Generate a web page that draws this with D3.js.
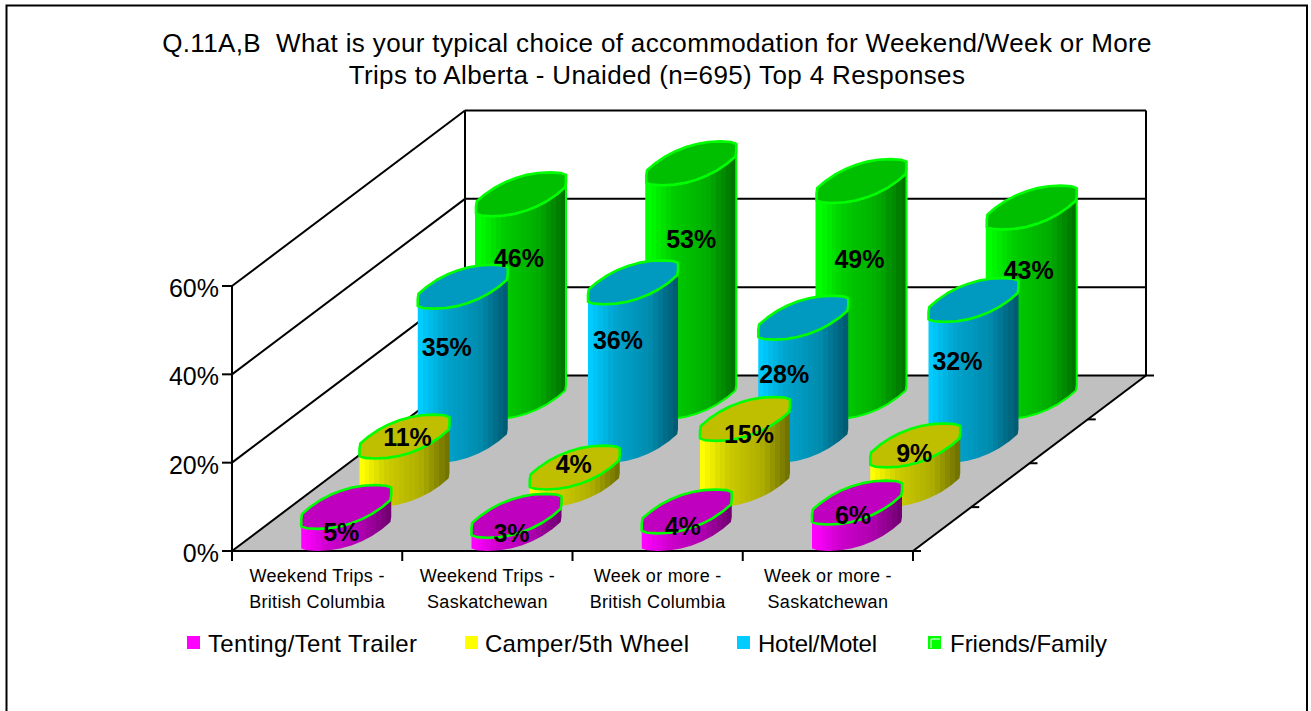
<!DOCTYPE html>
<html><head><meta charset="utf-8">
<script src="https://cdn.jsdelivr.net/npm/d3@7"></script>
<style>html,body{margin:0;padding:0;background:#fff}svg{display:block}text{font-family:"Liberation Sans",Arial,sans-serif;fill:#000;white-space:pre}</style>
</head><body><div id="c"></div>
<script>
const titleLines = ["Q.11A,B  What is your typical choice of accommodation for Weekend/Week or More","Trips to Alberta - Unaided (n=695) Top 4 Responses"];
const categories = [["Weekend Trips -","British Columbia"],["Weekend Trips -","Saskatchewan"],["Week or more -","British Columbia"],["Week or more -","Saskatchewan"]];
const seriesNames = ["Tenting/Tent Trailer","Camper/5th Wheel","Hotel/Motel","Friends/Family"];
const tenting = [5,3,4,6];
const camper = [11,4,15,9];
const hotel = [35,36,28,32];
const friends = [46,53,49,43];
const seriesValues = [tenting,camper,hotel,friends];
const valueTicks = [0,20,40,60];
const seriesColors = ["#ff00ff","#ffff00","#00ccff","#00ff00"];

// label nudges relative to each column's projected centre (drawing layout)
const labelNudge = [
 [[-5,25],[-5,17],[-4,15],[-4,12]],
 [[3,0],[-1,-4],[4,15],[-1,8]],
 [[-16,60],[-15,58],[-19,56],[-16,61]],
 [[-2,64],[0,76],[-2,78],[-3,62]]
];
const W=1311,H=711;
const svg=d3.select("#c").append("svg").attr("width",W).attr("height",H);
const defs=svg.append("defs");
svg.append("rect").attr("x",6.5).attr("y",5.5).attr("width",1300.5).attr("height",720).attr("fill","#fff").attr("stroke","#000").attr("stroke-width",2);

// 3-D projection: floor x scale, depth scale, value scale
const frontLeft=232, frontY=551, floorW=681;
const x=d3.scaleBand().domain(d3.range(categories.length)).range([0,floorW]);
const depth=d3.scaleBand().domain(d3.range(seriesNames.length)).range([0,1]);
const yVal=d3.scaleLinear().domain([0,60]).range([0,265]);
const backDX=233, backDY=175.5;
const proj=(px,d,v)=>[frontLeft+px+d*backDX, frontY-d*backDY-yVal(v)];
const line=(a,b,w=2)=>svg.append("line").attr("x1",a[0]).attr("y1",a[1]).attr("x2",b[0]).attr("y2",b[1]).attr("stroke","#000").attr("stroke-width",w);

// floor
svg.append("polygon").attr("points",[proj(0,0,0),proj(floorW,0,0),proj(floorW,1,0),proj(0,1,0)].map(p=>p.join(",")).join(" ")).attr("fill","#c0c0c0");
// walls
valueTicks.forEach(v=>{
  line(proj(0,0,v),proj(0,1,v));
  line(proj(0,1,v),proj(floorW,1,v));
  line([frontLeft-10,proj(0,0,v)[1]],proj(0,0,v));
  svg.append("text").attr("x",219).attr("y",proj(0,0,v)[1]+11).attr("text-anchor","end").attr("font-size",25).text(v+"%");
});
line(proj(0,0,0),proj(0,0,60));
line(proj(0,1,0),proj(0,1,60));
line(proj(floorW,1,0),proj(floorW,1,60));
line(proj(0,0,0),proj(floorW,0,0));
line(proj(floorW,0,0),proj(floorW,1,0));
d3.range(5).forEach(i=>{
  const px=i*x.step();
  line(proj(px,0,0),[proj(px,0,0)[0],frontY+10]);
});
d3.range(5).forEach(i=>{
  const p=proj(floorW,i/4,0);
  line(p,[p[0]+8,p[1]]);
});
// category labels
categories.forEach((c,i)=>{
  const cx=frontLeft+x(i)+x.bandwidth()/2;
  c.forEach((t,j)=>svg.append("text").attr("x",cx).attr("y",582+j*26).attr("text-anchor","middle").attr("font-size",18).attr("letter-spacing",0.3).text(t));
});

// cylinder gradient
function shade(col,k){const c=d3.rgb(col);return d3.rgb(c.r*k,c.g*k,c.b*k).formatHex();}
const bands=18;
const kAt=d3.scaleLinear().domain([0,0.3,0.7,1]).range([1,0.8,0.68,0.45]);
seriesColors.forEach((col,s)=>{
  const g=defs.append("linearGradient").attr("id","g"+s).attr("x1",0).attr("x2",1).attr("y1",0).attr("y2",0);
  d3.range(bands).forEach(i=>{
    const k=kAt(i/(bands-1));
    g.append("stop").attr("offset",i/bands).attr("stop-color",shade(col,k));
    g.append("stop").attr("offset",(i+1)/bands).attr("stop-color",shade(col,k));
  });
});

// faceted rounded ring in the floor plane, blunted at its screen-x extremes
const radX=36, radD=0.125, facets=24, power=0.85, halfWidth=45;
const spow=c=>Math.sign(c)*Math.pow(Math.abs(c),power);
function ring(cx,cd,v){
  const centre=proj(cx,cd,v)[0];
  return d3.range(facets).map(i=>{
    const t=2*Math.PI*i/facets;
    const p=proj(cx+radX*spow(Math.cos(t)),cd+radD*spow(Math.sin(t)),v);
    p[0]=Math.max(centre-halfWidth,Math.min(centre+halfWidth,p[0]));
    return p;
  });
}
const lineG=d3.line();
d3.range(seriesNames.length).reverse().forEach(s=>{
  const d0=depth(s)+depth.bandwidth()/2;
  categories.forEach((_,i)=>{
    const cx=x(i)+x.bandwidth()/2, v=seriesValues[s][i];
    const base=ring(cx,d0,0), top=ring(cx,d0,v);
    // lowest point of each blunted end bounds the visible side of the cylinder
    const iL=d3.scan(base,(a,b)=>(a[0]-b[0])||(b[1]-a[1])), iR=d3.scan(base,(a,b)=>(b[0]-a[0])||(b[1]-a[1]));
    const idx=[];
    for(let k=iL;;k=(k+1)%facets){idx.push(k);if(k===iR)break;}
    const body=idx.map(k=>base[k]).concat(idx.slice().reverse().map(k=>top[k]));
    svg.append("path").attr("d",lineG(body)+"Z").attr("fill","url(#g"+s+")")
      .attr("stroke",s===3?"#00ff00":"none").attr("stroke-width",s===3?2:0);
    svg.append("path").attr("d",lineG(top)+"Z").attr("fill",shade(seriesColors[s],0.75))
      .attr("stroke","#00ff00").attr("stroke-width",2.6).attr("stroke-linejoin","round");
  });
});
// data labels on top
d3.range(seriesNames.length).forEach(s=>{
  const d0=depth(s)+depth.bandwidth()/2;
  categories.forEach((_,i)=>{
    const v=seriesValues[s][i], cx=x(i)+x.bandwidth()/2, p=proj(cx,d0,v), n=labelNudge[s][i];
    svg.append("text").attr("x",p[0]+n[0]).attr("y",p[1]+n[1]+9).attr("text-anchor","middle")
      .attr("font-size",25).attr("font-weight","bold").text(v+"%");
  });
});
// title
titleLines.forEach((t,i)=>svg.append("text").attr("x",657).attr("y",52+i*32).attr("text-anchor","middle").attr("font-size",26).attr("letter-spacing",0.35).text(t));
// legend
const legendMarkX=[187,465,737,928], legendTextX=[208,485,758,950], legendTextW=[209,204,119,157];
seriesNames.forEach((n,s)=>{
  svg.append("rect").attr("x",legendMarkX[s]).attr("y",636).attr("width",13).attr("height",13).attr("fill",seriesColors[s]);
  if(s===3) svg.append("path").attr("d",`M${legendMarkX[s]+3},${636+12}V${636+3}H${legendMarkX[s]+12}`).attr("fill","none").attr("stroke","#fff").attr("stroke-width",1);
  svg.append("text").attr("x",legendTextX[s]).attr("y",652).attr("font-size",24).attr("textLength",legendTextW[s]).text(n);
});
</script></body></html>
